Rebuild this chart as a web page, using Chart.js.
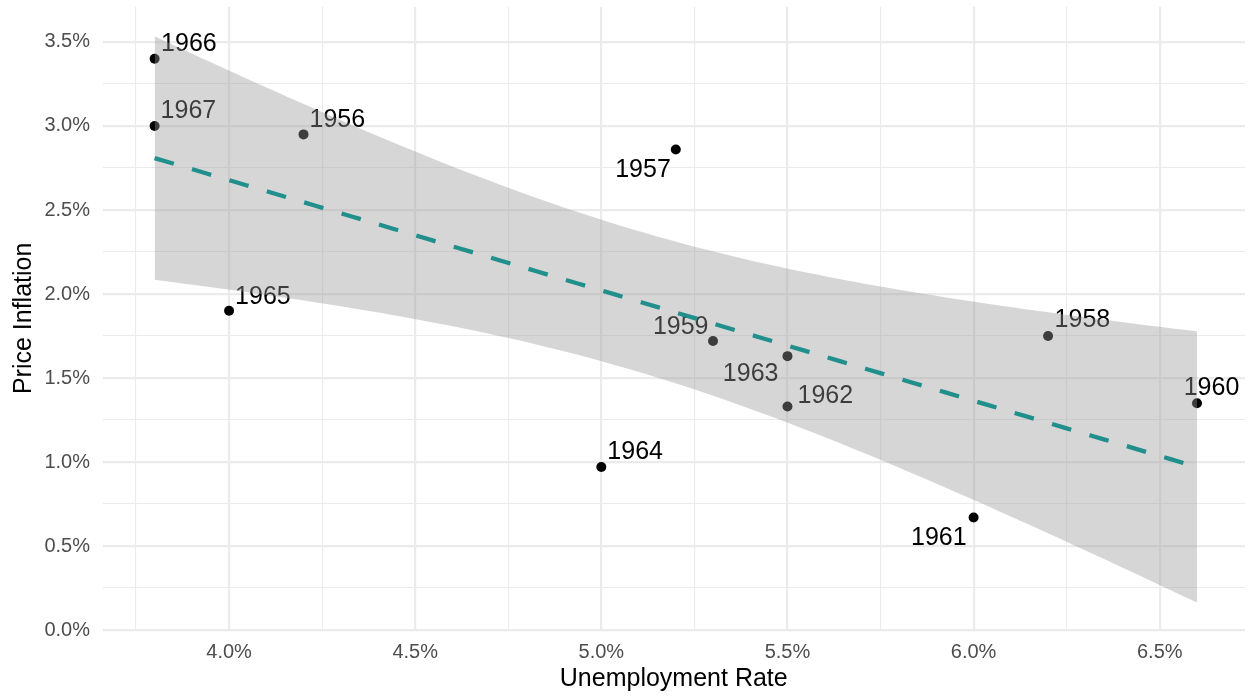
<!DOCTYPE html>
<html>
<head>
<meta charset="utf-8">
<title>Unemployment Rate vs Price Inflation</title>
<script src="https://cdn.jsdelivr.net/npm/chart.js@4.4.1/dist/chart.umd.min.js"></script>
<style>
  html, body { margin: 0; padding: 0; background: #ffffff; }
  #wrap { width: 1250px; height: 698px; }
</style>
</head>
<body>
<div id="wrap"><canvas id="c" width="1250" height="698"></canvas></div>
<script>
// Observations: year, unemployment rate (%), price inflation (%)
const years        = [1956, 1957, 1958, 1959, 1960, 1961, 1962, 1963, 1964, 1965, 1966, 1967];
const unemployment = [4.2,  5.2,  6.2,  5.3,  6.6,  6.0,  5.5,  5.5,  5.0,  4.0,  3.8,  3.8];
const inflation    = [2.95, 2.86, 1.75, 1.72, 1.35, 0.67, 1.33, 1.63, 0.97, 1.90, 3.40, 3.00];

// Axis ticks (major carry labels, minor are grid only)
const xMajorTicks = [4.0, 4.5, 5.0, 5.5, 6.0, 6.5];
const xMinorTicks = [3.75, 4.25, 4.75, 5.25, 5.75, 6.25];
const yMajorTicks = [0.0, 0.5, 1.0, 1.5, 2.0, 2.5, 3.0, 3.5];
const yMinorTicks = [0.25, 0.75, 1.25, 1.75, 2.25, 2.75, 3.25];

const xTitle = 'Unemployment Rate';
const yTitle = 'Price Inflation';

// Ordinary least squares fit with a 95% confidence band for the mean
function linearFit(xs, ys) {
  const n = xs.length;
  const mx = xs.reduce((a, b) => a + b, 0) / n;
  const my = ys.reduce((a, b) => a + b, 0) / n;
  let sxx = 0, sxy = 0;
  for (let i = 0; i < n; i++) {
    sxx += (xs[i] - mx) * (xs[i] - mx);
    sxy += (xs[i] - mx) * (ys[i] - my);
  }
  const slope = sxy / sxx;
  const intercept = my - slope * mx;
  let rss = 0;
  for (let i = 0; i < n; i++) {
    const r = ys[i] - (intercept + slope * xs[i]);
    rss += r * r;
  }
  const s = Math.sqrt(rss / (n - 2));
  return { n, mx, sxx, slope, intercept, s };
}

const T_975_DF10 = 2.228139; // Student t quantile, 10 degrees of freedom
const fit = linearFit(unemployment, inflation);
const xLo = Math.min(...unemployment), xHi = Math.max(...unemployment);
const fitLine = [], bandLower = [], bandUpper = [];
const STEPS = 80;
for (let i = 0; i < STEPS; i++) {
  const x = xLo + (xHi - xLo) * i / (STEPS - 1);
  const yhat = fit.intercept + fit.slope * x;
  const se = fit.s * Math.sqrt(1 / fit.n + (x - fit.mx) * (x - fit.mx) / fit.sxx);
  fitLine.push({ x, y: yhat });
  bandLower.push({ x, y: yhat - T_975_DF10 * se });
  bandUpper.push({ x, y: yhat + T_975_DF10 * se });
}

const points = unemployment.map((u, i) => ({ x: u, y: inflation[i] }));

// Year labels placed beside their points: [dx, dy, align]
const labelPlacement = {
  1956: [6, -16, 'left'],
  1957: [-5, 18.5, 'right'],
  1958: [6.5, -17.5, 'left'],
  1959: [-4.5, -16.5, 'right'],
  1960: [14.5, -17, 'center'],
  1961: [-7, 19, 'right'],
  1962: [10, -13, 'left'],
  1963: [-9, 15.5, 'right'],
  1964: [6, -17, 'left'],
  1965: [6, -16, 'left'],
  1966: [6.5, -17, 'left'],
  1967: [6, -16.5, 'left']
};

const yearLabels = {
  id: 'yearLabels',
  beforeDatasetsDraw(chart) {
    const { ctx, scales } = chart;
    ctx.save();
    ctx.font = '25px "Liberation Sans", Arial, sans-serif';
    ctx.fillStyle = '#000000';
    ctx.textBaseline = 'alphabetic';
    years.forEach((yr, i) => {
      const px = scales.x.getPixelForValue(unemployment[i]);
      const py = scales.y.getPixelForValue(inflation[i]);
      const [dx, dy, align] = labelPlacement[yr];
      ctx.textAlign = align;
      ctx.fillText(String(yr), px + dx, py + dy + 9);
    });
    ctx.restore();
  }
};

const isIn = (arr, v) => arr.some(t => Math.abs(t - v) < 1e-9);
const noEdgePadding = s => { s.paddingTop = 0; s.paddingBottom = 0; s.paddingLeft = 0; s.paddingRight = 0; };
const GRID = '#ebebeb';
const FONT = '"Liberation Sans", Arial, sans-serif';

new Chart(document.getElementById('c'), {
  type: 'scatter',
  data: {
    datasets: [
      {
        type: 'line',
        data: fitLine,
        borderColor: '#21908C',
        borderWidth: 4.3,
        borderDash: [20, 19],
        borderCapStyle: 'butt',
        pointRadius: 0,
        fill: false,
        tension: 0,
        order: 0
      },
      {
        type: 'line',
        data: bandLower,
        borderColor: 'transparent',
        borderWidth: 0,
        pointRadius: 0,
        fill: false,
        order: 1
      },
      {
        type: 'line',
        data: bandUpper,
        borderColor: 'transparent',
        borderWidth: 0,
        pointRadius: 0,
        fill: '-1',
        backgroundColor: 'rgba(153,153,153,0.4)',
        order: 1
      },
      {
        data: points,
        backgroundColor: '#000000',
        borderWidth: 0,
        pointRadius: 5,
        pointHoverRadius: 5,
        order: 2
      }
    ]
  },
  options: {
    responsive: false,
    devicePixelRatio: 1,
    animation: false,
    events: [],
    layout: { padding: { top: 6.7, right: 0, left: 0, bottom: 0 } },
    plugins: { legend: { display: false }, tooltip: { enabled: false } },
    scales: {
      x: {
        type: 'linear',
        min: 3.66,
        max: 6.729,
        afterBuildTicks: s => { s.ticks = [...xMinorTicks, ...xMajorTicks].sort((a, b) => a - b).map(v => ({ value: v })); },
        afterFit: s => { s.height = 68; noEdgePadding(s); },
        border: { display: false },
        grid: {
          color: GRID,
          drawTicks: false,
          lineWidth: c => (c.tick && isIn(xMajorTicks, c.tick.value)) ? 2.2 : 1.1
        },
        ticks: {
          autoSkip: false,
          maxRotation: 0,
          padding: 10,
          color: '#4d4d4d',
          font: { family: FONT, size: 20 },
          callback: v => isIn(xMajorTicks, v) ? v.toFixed(1) + '%' : ''
        },
        title: {
          display: true,
          text: xTitle,
          color: '#000000',
          font: { family: FONT, size: 25 },
          padding: { top: 0, bottom: 4 }
        }
      },
      y: {
        type: 'linear',
        min: 0,
        max: 3.71,
        afterBuildTicks: s => { s.ticks = [...yMinorTicks, ...yMajorTicks].sort((a, b) => a - b).map(v => ({ value: v })); },
        afterFit: s => { s.width = 102.5; noEdgePadding(s); },
        border: { display: false },
        grid: {
          color: GRID,
          drawTicks: false,
          lineWidth: c => (c.tick && isIn(yMajorTicks, c.tick.value)) ? 2.2 : 1.1
        },
        ticks: {
          autoSkip: false,
          padding: 12.5,
          color: '#4d4d4d',
          font: { family: FONT, size: 20 },
          callback: v => isIn(yMajorTicks, v) ? v.toFixed(1) + '%' : ''
        },
        title: {
          display: true,
          text: yTitle,
          color: '#000000',
          font: { family: FONT, size: 25 },
          padding: { top: 9, bottom: 0 }
        }
      }
    }
  },
  plugins: [yearLabels]
});
</script>
</body>
</html>
